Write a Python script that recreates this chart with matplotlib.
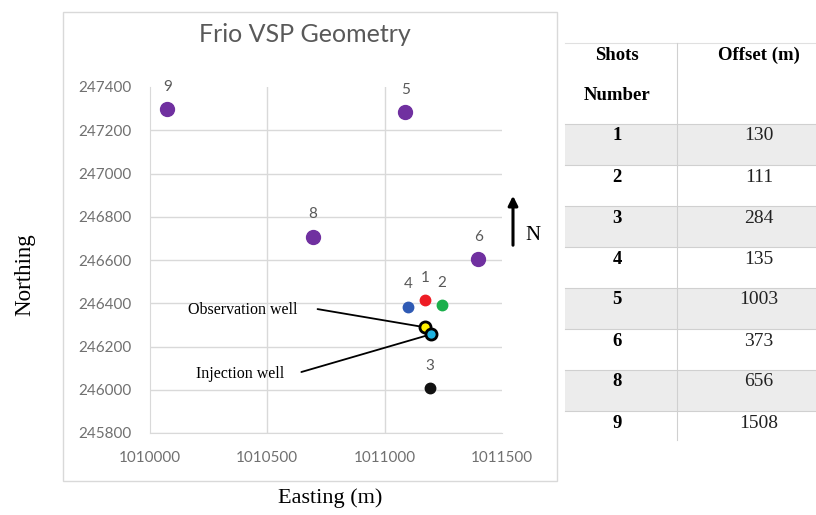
import matplotlib
matplotlib.use('Agg')
import matplotlib.pyplot as plt
from matplotlib.patches import Rectangle
from matplotlib.lines import Line2D
from matplotlib.ticker import FuncFormatter

# shot points (easting, northing in m)
shot_ids = ['1', '2', '3', '4', '5', '6', '8', '9']
shot_east = [1011171, 1011244, 1011194, 1011101, 1011087, 1011399, 1010694, 1010074]
shot_north = [246415, 246392, 246007, 246384, 247283, 246605, 246708, 247298]
shot_colors = ['#ee1c25', '#1aaf4b', '#111111', '#2f5ab4',
               '#7030a0', '#7030a0', '#7030a0', '#7030a0']
shot_sizes = [7.5, 7.5, 7.5, 7.5, 10, 10, 10, 10]

# wells
well_names = ['Observation well', 'Injection well']
well_east = [1011171, 1011199]
well_north = [246289, 246257]
well_colors = ['#ffef00', '#1fb3e0']
label_east = [1010397, 1010385]
label_north = [246369, 246073]
line_east = [1010714, 1010645]
line_north = [246373, 246082]

# table
table_shots = ['1', '2', '3', '4', '5', '6', '8', '9']
table_offsets = ['130', '111', '284', '135', '1003', '373', '656', '1508']

W, H = 816, 515


def px(x, y):
    return x / W, 1 - y / H


fig = plt.figure(figsize=(8.16, 5.15), dpi=100)
fig.patch.set_facecolor('white')

# chart frame
fig.add_artist(Rectangle(px(63, 481), (557 - 63) / W, (481 - 12) / H,
                         transform=fig.transFigure, fill=False,
                         edgecolor='#d9d9d9', lw=1))

l, r, t, b = px(150, 87)[0], px(502, 87)[0], px(150, 87)[1], px(150, 433)[1]
ax = fig.add_axes([l, b, r - l, t - b])

sans = 'Lato'
serif = 'Liberation Serif'
grey = '#595959'

ax.set_xlim(1010000, 1011500)
ax.set_ylim(245800, 247400)
ax.set_xticks([1010000, 1010500, 1011000, 1011500])
ax.set_yticks(range(245800, 247401, 200))
ax.xaxis.set_major_formatter(FuncFormatter(lambda v, p: f'{v:.0f}'))
ax.yaxis.set_major_formatter(FuncFormatter(lambda v, p: f'{v:.0f}'))
ax.grid(True, color='#d9d9d9', lw=1)
ax.set_axisbelow(True)
ax.yaxis.get_gridlines()[-1].set_visible(False)
ax.xaxis.get_gridlines()[-1].set_visible(False)
ax.xaxis.get_gridlines()[0].set_visible(False)
for s in ['top', 'right']:
    ax.spines[s].set_visible(False)
ax.spines['bottom'].set_color('#d9d9d9')
ax.spines['left'].set_color('#d9d9d9')
ax.tick_params(length=0, colors='#707070', labelsize=11)
ax.tick_params(axis='x', pad=13)
ax.tick_params(axis='y', pad=13)
for lab in ax.get_xticklabels() + ax.get_yticklabels():
    lab.set_family(sans)

for sid, e, n, c, s in zip(shot_ids, shot_east, shot_north, shot_colors, shot_sizes):
    ax.plot(e, n, 'o', color=c, ms=s, mec=c, zorder=3)
    ax.annotate(sid, (e, n), xytext=(0, 16), textcoords='offset points',
                ha='center', va='center', color=grey, fontsize=11, family=sans)

for name, e, n, c, te, tn, le, ln in zip(well_names, well_east, well_north, well_colors,
                                        label_east, label_north, line_east, line_north):
    ax.plot(e, n, 'o', color=c, ms=8, mec='black', mew=2, zorder=4)
    ax.annotate('', xy=(e, n), xytext=(le, ln),
                arrowprops=dict(arrowstyle='-', color='black', lw=1.3,
                                shrinkA=0, shrinkB=3), zorder=2)
    ax.text(te, tn, name, ha='center', va='center', fontsize=11.5, family=serif)

fig.text(*px(305, 35), 'Frio VSP Geometry', ha='center', va='center',
         fontsize=18, color=grey, family=sans)
fig.text(*px(330, 498), 'Easting (m)', ha='center', va='center',
         fontsize=16, family=serif)
fig.text(*px(25, 275), 'Northing', ha='center', va='center', rotation=90,
         fontsize=16.5, family=serif)

# north arrow
ax.annotate('', xy=(513, H - 193), xycoords='figure pixels',
            xytext=(513, H - 248), textcoords='figure pixels',
            arrowprops=dict(arrowstyle='-|>', color='black', lw=2.2, mutation_scale=14))
fig.text(*px(533, 235), 'N', ha='center', va='center', fontsize=15, family=serif)

# offsets table
tx0, tx1, tdiv = 565, 816, 677
c1, c2 = 617, 759
row_top = 124
row_h = 41
fig.add_artist(Line2D([tx0 / W, tx1 / W], [px(0, 43)[1]] * 2,
                      transform=fig.transFigure, color='#e0e0e0', lw=0.8))
fig.add_artist(Line2D([tx0 / W, tx1 / W], [px(0, row_top)[1]] * 2,
                      transform=fig.transFigure, color='#d0d0d0', lw=0.8))
for i, (shot, off) in enumerate(zip(table_shots, table_offsets)):
    y0 = row_top + i * row_h
    if i % 2 == 0:
        fig.add_artist(Rectangle(px(tx0, y0 + row_h), (tx1 - tx0) / W, row_h / H,
                                 transform=fig.transFigure, facecolor='#ececec',
                                 edgecolor='none', zorder=0))
    if i < len(table_shots) - 1:
        fig.add_artist(Line2D([tx0 / W, tx1 / W], [px(0, y0 + row_h)[1]] * 2,
                              transform=fig.transFigure, color='#d0d0d0', lw=0.8))
    fig.text(*px(c1, y0 + 12), shot, ha='center', va='center', fontsize=13.5,
             weight='bold', family=serif)
    fig.text(*px(c2, y0 + 12), off, ha='center', va='center', fontsize=14,
             family=serif, color='#222222')
fig.add_artist(Line2D([tdiv / W] * 2, [px(0, 43)[1], px(0, 440)[1]],
                      transform=fig.transFigure, color='#d0d0d0', lw=0.8))
fig.text(*px(c1, 55), 'Shots', ha='center', va='center', fontsize=13.5,
         weight='bold', family=serif)
fig.text(*px(c1, 95), 'Number', ha='center', va='center', fontsize=13.5,
         weight='bold', family=serif)
fig.text(*px(c2, 55), 'Offset (m)', ha='center', va='center', fontsize=13.5,
         weight='bold', family=serif)

fig.savefig('out.png', dpi=100)
